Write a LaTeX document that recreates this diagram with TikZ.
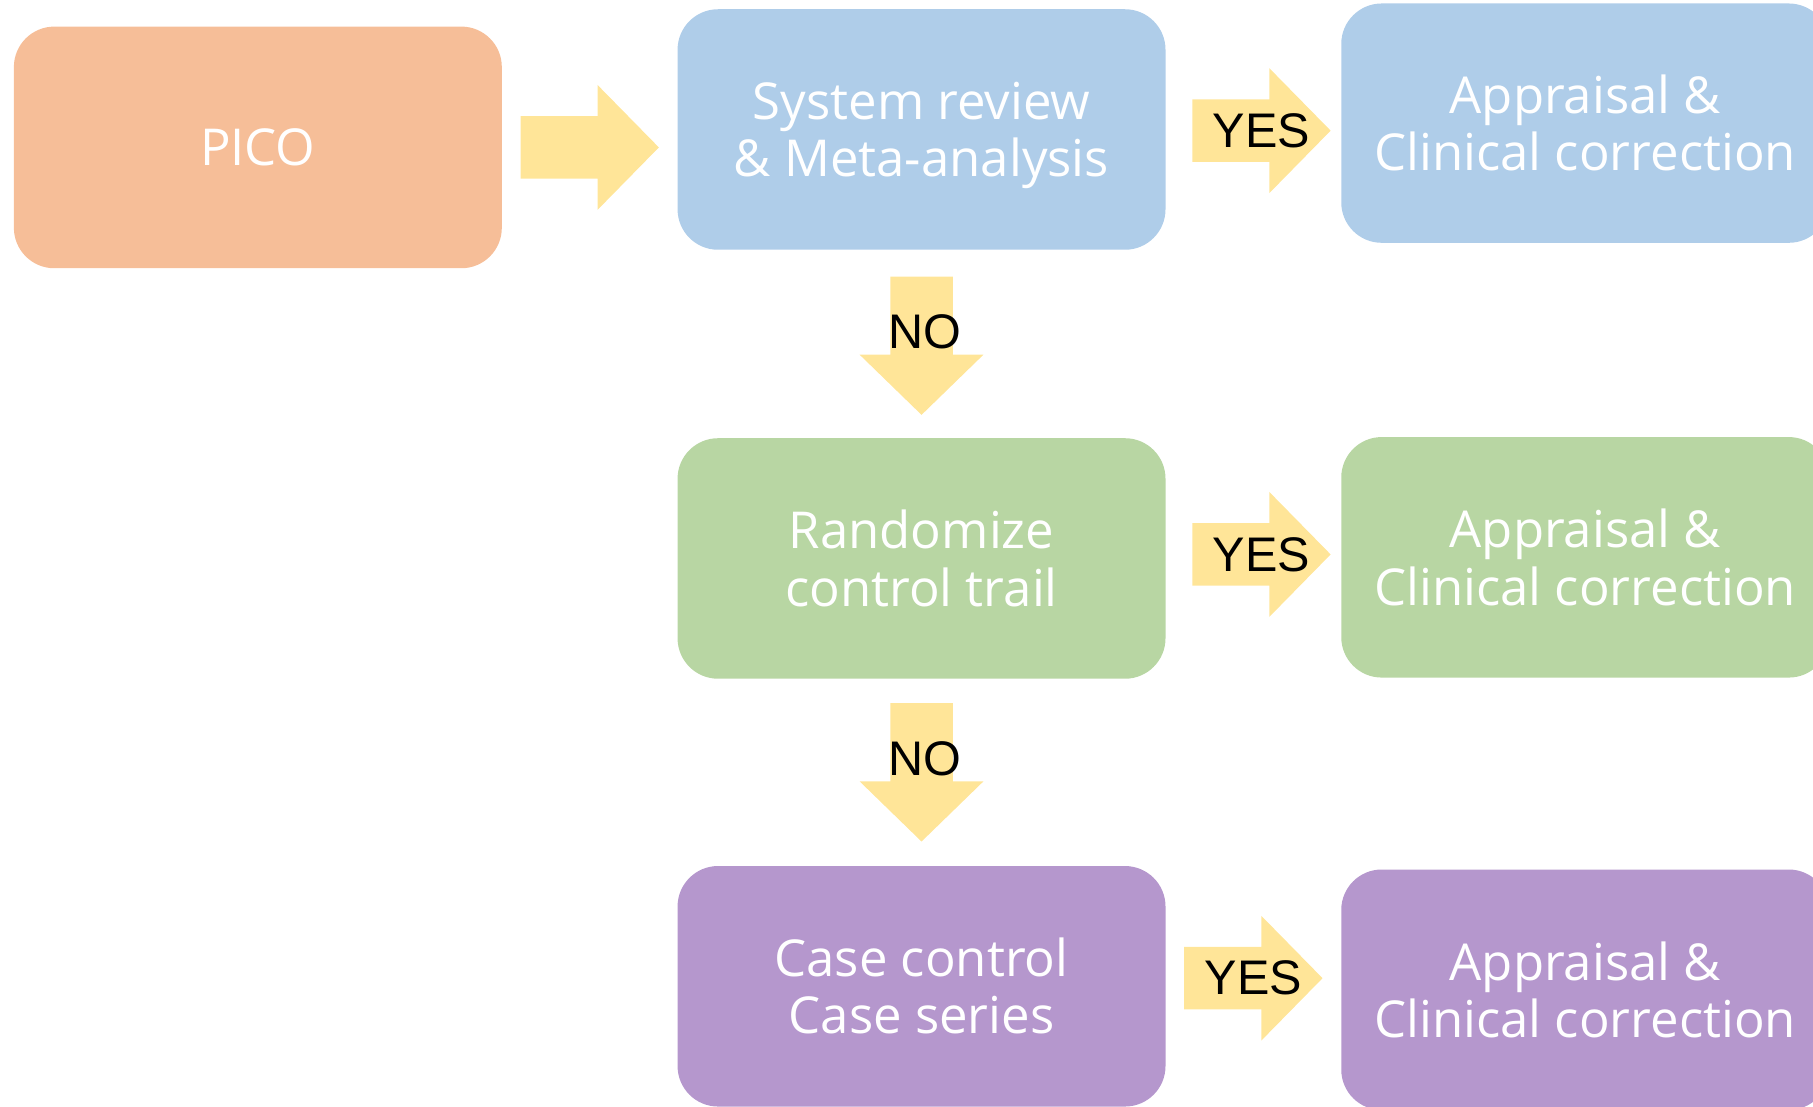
\documentclass[tikz,border=0pt]{standalone}
\usepackage{fontspec}
\setmainfont{Open Sans}
\newfontfamily\arialf{Liberation Sans}
\usetikzlibrary{calc}
\definecolor{picoc}{HTML}{F6BE98}
\definecolor{bluec}{HTML}{AFCDE9}
\definecolor{greenc}{HTML}{B8D6A3}
\definecolor{purplec}{HTML}{B597CD}
\definecolor{yellowc}{HTML}{FFE598}
\tikzset{
  box/.style={rounded corners=35pt, minimum width=422pt, minimum height=208pt,
    inner sep=0pt, align=center, text=white,
    font=\fontsize{44}{49.5}\selectfont},
  boxtext/.style={inner sep=0pt, align=center, text=white,
    font=\fontsize{44}{49.5}\selectfont},
  arrowfill/.style={fill=yellowc},
  lbl/.style={font=\arialf\fontsize{42}{46}\selectfont, text=black, inner sep=0pt}
}
% horizontal block arrow: #1 start, #2 tip
\newcommand\rblock[2]{%
  \fill[arrowfill] ($(#1)+(0,-27)$) -- ($(#2)+(-53,-27)$) -- ($(#2)+(-53,-54)$) -- (#2)
   -- ($(#2)+(-53,54)$) -- ($(#2)+(-53,27)$) -- ($(#1)+(0,27)$) -- cycle;}
% vertical block arrow (downwards): #1 start, #2 tip
\newcommand\dblock[2]{%
  \fill[arrowfill] ($(#1)+(-27,0)$) -- ($(#2)+(-27,-52)$) -- ($(#2)+(-53.5,-52)$) -- (#2)
   -- ($(#2)+(53.5,-52)$) -- ($(#2)+(27,-52)$) -- ($(#1)+(27,0)$) -- cycle;}
\begin{document}
\begin{tikzpicture}[x=1pt,y=-1pt]
\useasboundingbox (0,0) rectangle (1568,957);
\clip (0,0) rectangle (1568,957);

\node[box, fill=picoc, minimum height=209pt] (pico) at (223,127.5) {PICO};
\node[box, fill=bluec] (sr) at (797,112) {};
\node[boxtext] (srtext) at ($(sr.center)+(0,5)$) {System review\\\& Meta-analysis};
\node[box, fill=bluec, minimum height=207pt] (ap1) at (1371,106.5) {Appraisal \&\\Clinical correction};
\node[box, fill=greenc] (rct) at (797,483) {Randomize\\control trail};
\node[box, fill=greenc] (ap2) at (1371,482) {Appraisal \&\\Clinical correction};
\node[box, fill=purplec] (cc) at (797,853) {Case control\\Case series};
\node[box, fill=purplec] (ap3) at (1371,856) {Appraisal \&\\Clinical correction};

% PICO -> SR
\coordinate (a0s) at ($(pico.east)+(16,0)$);
\coordinate (a0t) at ($(sr.west |- pico.east)+(-16,0)$);
\rblock{a0s}{a0t}

% YES arrows
\coordinate (y1s) at ($(sr.east)+(23,1)$);
\coordinate (y1t) at ($(ap1.west |- y1s)+(-9,0)$);
\rblock{y1s}{y1t}
\node[lbl] (y1) at ($(y1s)!0.5!(y1t)$) {YES};

\coordinate (y2s) at ($(rct.east)+(23,-3.5)$);
\coordinate (y2t) at ($(ap2.west |- y2s)+(-9,0)$);
\rblock{y2s}{y2t}
\node[lbl] (y2) at ($(y2s)!0.5!(y2t)$) {YES};

\coordinate (y3s) at ($(cc.east)+(16,-7)$);
\coordinate (y3t) at ($(ap3.west |- y3s)+(-16,0)$);
\rblock{y3s}{y3t}
\node[lbl] (y3) at ($(y3s)!0.5!(y3t)$) {YES};

% NO arrows
\coordinate (n1s) at ($(sr.south)+(0,23)$);
\coordinate (n1t) at ($(rct.north)+(0,-20)$);
\dblock{n1s}{n1t}
\node[lbl] (n1) at ($(n1s)!0.4!(n1t)+(3,0)$) {NO};

\coordinate (n2s) at ($(rct.south)+(0,21)$);
\coordinate (n2t) at ($(cc.north)+(0,-21)$);
\dblock{n2s}{n2t}
\node[lbl] (n2) at ($(n2s)!0.4!(n2t)+(3,0)$) {NO};
\end{tikzpicture}
\end{document}
